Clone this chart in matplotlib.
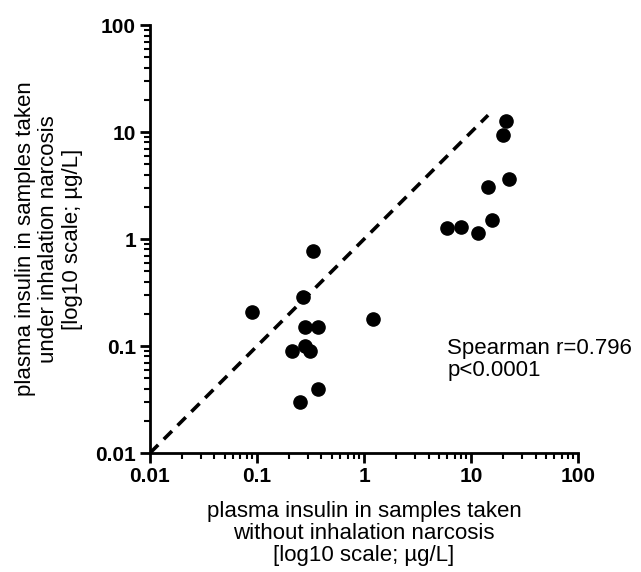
import matplotlib.pyplot as plt
from matplotlib.ticker import LogLocator, FixedFormatter, FixedLocator, NullFormatter

plt.rcParams['font.family'] = ['Liberation Sans', 'DejaVu Sans']

# values (ug/L)
without_narcosis = [0.33, 0.27, 0.089, 0.28, 0.37, 1.22, 0.21, 0.28, 0.31, 0.37, 0.25,
                    21.2, 20.0, 22.8, 14.3, 15.8, 5.9, 8.1, 11.5]
under_narcosis = [0.78, 0.29, 0.21, 0.15, 0.15, 0.18, 0.09, 0.10, 0.09, 0.04, 0.03,
                  12.7, 9.4, 3.66, 3.08, 1.51, 1.27, 1.30, 1.13]
identity_line = [0.01, 14.4]
tick_values = [0.01, 0.1, 1, 10, 100]
tick_labels = ['0.01', '0.1', '1', '10', '100']

fig = plt.figure(figsize=(6.41, 5.72), dpi=100)
ax = fig.add_axes([0.234, 0.208, 0.668, 0.748])

ax.plot(identity_line, identity_line, 'k--', linewidth=2.6, dashes=(3.2, 2.2))
ax.plot(without_narcosis, under_narcosis, 'o', color='black', markersize=9.5,
        clip_on=False)

ax.set_xscale('log')
ax.set_yscale('log')
ax.set_xlim(0.01, 100)
ax.set_ylim(0.01, 100)

for spine in ['top', 'right']:
    ax.spines[spine].set_visible(False)
for spine in ['left', 'bottom']:
    ax.spines[spine].set_linewidth(2)

for axis in [ax.xaxis, ax.yaxis]:
    axis.set_major_locator(FixedLocator(tick_values))
    axis.set_major_formatter(FixedFormatter(tick_labels))
    axis.set_minor_locator(LogLocator(base=10, subs=range(2, 10)))
    axis.set_minor_formatter(NullFormatter())

ax.tick_params(which='major', length=7, width=2, labelsize=15, pad=3)
ax.tick_params(which='minor', length=4, width=1.5)
for lbl in ax.get_xticklabels() + ax.get_yticklabels():
    lbl.set_fontweight('bold')

ax.set_xlabel('plasma insulin in samples taken\nwithout inhalation narcosis\n[log10 scale; \u00b5g/L]',
              fontsize=16, linespacing=1.05, labelpad=11)
ax.set_ylabel('plasma insulin in samples taken\nunder inhalation narcosis\n[log10 scale; \u00b5g/L]',
              fontsize=16, linespacing=1.15, labelpad=9)

ax.text(0.694, 0.268, 'Spearman r=0.796\np<0.0001', transform=ax.transAxes,
        fontsize=16, va='top', ha='left', linespacing=1.05)

fig.savefig('out.png', dpi=100)
